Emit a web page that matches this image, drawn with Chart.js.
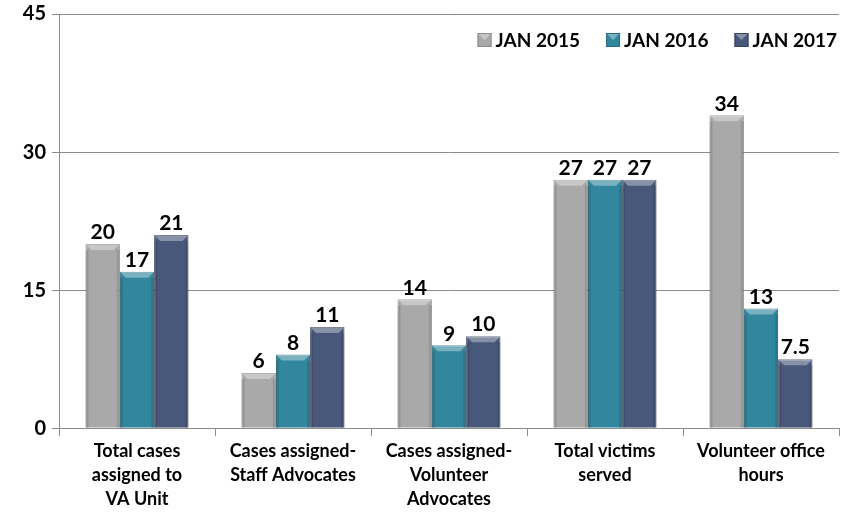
<!DOCTYPE html>
<html>
<head>
<meta charset="utf-8">
<script src="https://cdn.jsdelivr.net/npm/chart.js@4"></script>
<style>
  html, body { margin: 0; padding: 0; background: #fff; }
  #wrap { width: 851px; height: 518px; }
</style>
</head>
<body>
<div id="wrap"><canvas id="myChart" width="851" height="518"></canvas></div>
<script>
const categories = [
  ['Total cases', 'assigned to', 'VA Unit'],
  ['Cases assigned-', 'Staff Advocates'],
  ['Cases assigned-', 'Volunteer', 'Advocates'],
  ['Total victims', 'served'],
  ['Volunteer office', 'hours']
];
const seriesNames = ['JAN 2015', 'JAN 2016', 'JAN 2017'];
const jan2015 = [20, 6, 14, 27, 34];
const jan2016 = [17, 8, 9, 27, 13];
const jan2017 = [21, 11, 10, 27, 7.5];
const yTicks = [0, 15, 30, 45];

const FONT = "Lato, 'Open Sans', sans-serif";
const colors = ['#a9a9a9', '#32879f', '#48587a'];
const borders = ['#8a8a8a', '#276b7e', '#36435d'];

// light bevel on top of each bar + value labels
const barDeco = {
  id: 'barDeco',
  afterDatasetsDraw(chart) {
    const ctx = chart.ctx;
    chart.data.datasets.forEach((ds, di) => {
      const meta = chart.getDatasetMeta(di);
      meta.data.forEach((bar, i) => {
        const { x, y, width, base } = bar;
        const l = x - width / 2, r = x + width / 2, b = 6;
        ctx.save();
        ctx.fillStyle = 'rgba(255,255,255,0.35)';
        ctx.beginPath();
        ctx.moveTo(l, y); ctx.lineTo(r, y); ctx.lineTo(r - b, y + b); ctx.lineTo(l + b, y + b);
        ctx.closePath(); ctx.fill();
        ctx.fillStyle = 'rgba(0,0,0,0.12)';
        ctx.fillRect(l, y + b, 3, base - y - b);
        ctx.fillRect(r - 3, y + b, 3, base - y - b);
        ctx.fillStyle = '#000';
        ctx.font = 'bold 21px ' + FONT;
        ctx.textAlign = 'center';
        ctx.textBaseline = 'bottom';
        ctx.fillText(String(ds.data[i]), x, y - 1);
        ctx.restore();
      });
    });
  }
};

// legend inside the plot, top right
const innerLegend = {
  id: 'innerLegend',
  afterDraw(chart) {
    const ctx = chart.ctx;
    const area = chart.chartArea;
    ctx.save();
    ctx.font = 'bold 19px ' + FONT;
    ctx.textBaseline = 'middle';
    ctx.textAlign = 'left';
    const box = 14, gap = 4, itemGap = 26;
    const items = chart.data.datasets.map((ds, i) => ({
      text: ds.label, color: colors[i], border: borders[i],
      w: box + gap + ctx.measureText(ds.label).width
    }));
    const total = items.reduce((s, it) => s + it.w, 0) + itemGap * (items.length - 1);
    let x = area.right - 2 - total;
    const yc = area.top + 26;
    items.forEach(it => {
      ctx.fillStyle = it.color;
      ctx.fillRect(x, yc - box / 2, box, box);
      ctx.fillStyle = 'rgba(255,255,255,0.35)';
      ctx.beginPath();
      ctx.moveTo(x, yc - box / 2); ctx.lineTo(x + box, yc - box / 2); ctx.lineTo(x + box / 2, yc);
      ctx.closePath(); ctx.fill();
      ctx.strokeStyle = it.border;
      ctx.lineWidth = 1;
      ctx.strokeRect(x + 0.5, yc - box / 2 + 0.5, box - 1, box - 1);
      ctx.fillStyle = '#000';
      ctx.fillText(it.text, x + box + gap, yc + 1);
      x += it.w + itemGap;
    });
    ctx.restore();
  }
};

const ctxt = document.getElementById('myChart').getContext('2d');
const myChart = new Chart(ctxt, {
  type: 'bar',
  data: {
    labels: categories,
    datasets: [jan2015, jan2016, jan2017].map((d, i) => ({
      label: seriesNames[i],
      data: d,
      backgroundColor: colors[i],
      borderColor: borders[i],
      borderWidth: 1,
      categoryPercentage: 0.66,
      barPercentage: 1
    }))
  },
  options: {
    responsive: false,
    animation: false,
    layout: { padding: { top: 0, right: 12, left: 4, bottom: 4 } },
    plugins: {
      legend: { display: false },
      tooltip: { enabled: false }
    },
    scales: {
      x: {
        offset: true,
        grid: {
          offset: true,
          drawOnChartArea: false,
          tickLength: 8,
          color: '#8c8c8c'
        },
        border: { color: '#8c8c8c' },
        ticks: {
          color: '#000',
          font: { family: FONT, size: 18, weight: 'bold', lineHeight: 1.33 },
          maxRotation: 0,
          padding: 3
        }
      },
      y: {
        min: 0,
        max: 45,
        afterBuildTicks: (axis) => { axis.ticks = yTicks.map(v => ({ value: v })); },
        afterFit: (axis) => { axis.width = 55; axis.paddingTop = 14; },
        grid: { color: '#8c8c8c', tickLength: 7 },
        border: { color: '#8c8c8c' },
        ticks: {
          color: '#000',
          font: { family: FONT, size: 20, weight: 'bold' },
          padding: 6
        }
      }
    }
  },
  plugins: [barDeco, innerLegend]
});
</script>
</body>
</html>
